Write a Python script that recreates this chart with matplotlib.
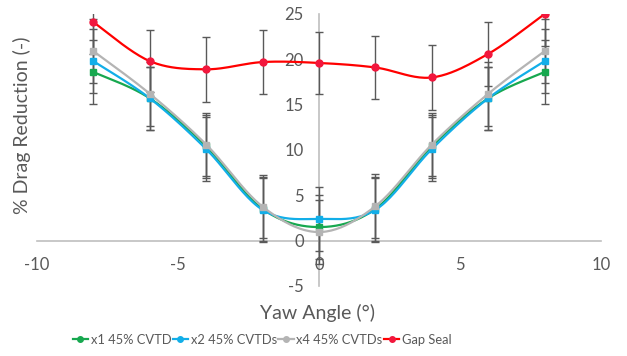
import matplotlib
matplotlib.use("Agg")
import matplotlib.pyplot as plt
from matplotlib.lines import Line2D
import numpy as np

plt.rcParams["font.family"] = ["Lato", "DejaVu Sans"]
plt.rcParams["axes.unicode_minus"] = False
TXT = "#595959"; AXC = "#bfbfbf"; ERRC = "#595959"

yaw = [-8, -6, -4, -2, 0, 2, 4, 6, 8]
x1_cvtd = [18.6, 15.7, 10.4, 3.5, 1.5, 3.5, 10.4, 15.7, 18.6]
x2_cvtd = [19.8, 15.7, 10.1, 3.4, 2.4, 3.4, 10.1, 15.7, 19.8]
x4_cvtd = [20.9, 16.2, 10.6, 3.75, 0.95, 3.8, 10.6, 16.2, 20.9]
gap_seal = [24.1, 19.8, 18.9, 19.7, 19.6, 19.1, 18.0, 20.6, 25.0]
err_x1 = [3.5, 3.5, 3.5, 3.5, 3.5, 3.5, 3.5, 3.5, 3.5]
err_x2 = [3.5, 3.5, 3.5, 3.5, 3.5, 3.5, 3.5, 3.5, 3.5]
err_x4 = [3.5, 3.5, 3.5, 3.5, 3.5, 3.5, 3.5, 3.5, 3.5]
err_gap = [3.5, 3.4, 3.6, 3.5, 3.45, 3.5, 3.6, 3.5, 3.5]
labels = ["x1 45% CVTD", "x2 45% CVTDs", "x4 45% CVTDs", "Gap Seal"]
xticks = [-10, -5, 0, 5, 10]
yticks = [-5, 0, 5, 10, 15, 20, 25]

def smooth(x, y, n=24):
    # bezier through the points, excel-style smoothed line
    p = np.column_stack([x, y]).astype(float)
    out = []
    for i in range(len(p) - 1):
        p0 = p[i - 1] if i > 0 else p[i]
        p1, p2 = p[i], p[i + 1]
        p3 = p[i + 2] if i + 2 < len(p) else p[i + 1]
        c1 = p1 + (p2 - p0) / 6; c2 = p2 - (p3 - p1) / 6
        t = np.linspace(0, 1, n)[:, None]
        seg = (1-t)**3*p1 + 3*(1-t)**2*t*c1 + 3*(1-t)*t**2*c2 + t**3*p2
        out.append(seg if i == 0 else seg[1:])
    s = np.vstack(out)
    return s[:, 0], s[:, 1]

fig = plt.figure(figsize=(6.27, 3.56), dpi=100)
ax = fig.add_axes([37/627, 1-286/356, (601-37)/627, (286-14)/356])

series = [(x1_cvtd, err_x1, "#17a84f", "s", "#17a84f"),
          (x2_cvtd, err_x2, "#12aee8", "s", "#12aee8"),
          (x4_cvtd, err_x4, "#b4b4b4", "s", "#b4b4b4"),
          (gap_seal, err_gap, "#ff0000", "o", "#f2173d")]
handles = []
for vals, err, col, mk, mcol in series:
    ax.errorbar(yaw, vals, yerr=err, fmt="none", ecolor=ERRC, elinewidth=1, capsize=3, capthick=1, zorder=2)
for i, (vals, err, col, mk, mcol) in enumerate(series):
    sx, sy = smooth(yaw, vals)
    ax.plot(sx, sy, color=col, lw=1.6, zorder=3 + i)
    ax.plot(yaw, vals, ls="none", marker=mk, ms=5, color=mcol, mec=mcol, zorder=3 + i)
    handles.append(Line2D([], [], color=col, lw=1.6, marker="o", ms=4, mfc=mcol, mec=mcol))

ax.set_xlim(-10, 10); ax.set_ylim(-5, 25)
ax.set_xticks(xticks); ax.set_yticks(yticks)
for s in ["top", "right"]:
    ax.spines[s].set_visible(False)
ax.spines["left"].set_position("zero"); ax.spines["bottom"].set_position("zero")
for s in ["left", "bottom"]:
    ax.spines[s].set_color(AXC); ax.spines[s].set_linewidth(1.2); ax.spines[s].set_zorder(1)
ax.tick_params(axis="x", length=0, pad=12, labelsize=12, labelcolor=TXT)
ax.tick_params(axis="y", length=0, pad=11, labelsize=12, labelcolor=TXT)
ax.set_facecolor("none")

fig.text(22/627, 1-125/356, "% Drag Reduction (-)", rotation=90, ha="center", va="center", fontsize=14, color=TXT)
fig.text(318/627, 1-313/356, "Yaw Angle (°)", ha="center", va="center", fontsize=14, color=TXT)
leg = fig.legend(handles, labels, loc="center", bbox_to_anchor=(262/627, 1-340/356), ncol=4, frameon=False,
                 fontsize=9.3, handlelength=1.2, handletextpad=0.2, columnspacing=0.1, borderaxespad=0)
for t in leg.get_texts():
    t.set_color(TXT)

fig.savefig("out.png", dpi=100, facecolor="white")
